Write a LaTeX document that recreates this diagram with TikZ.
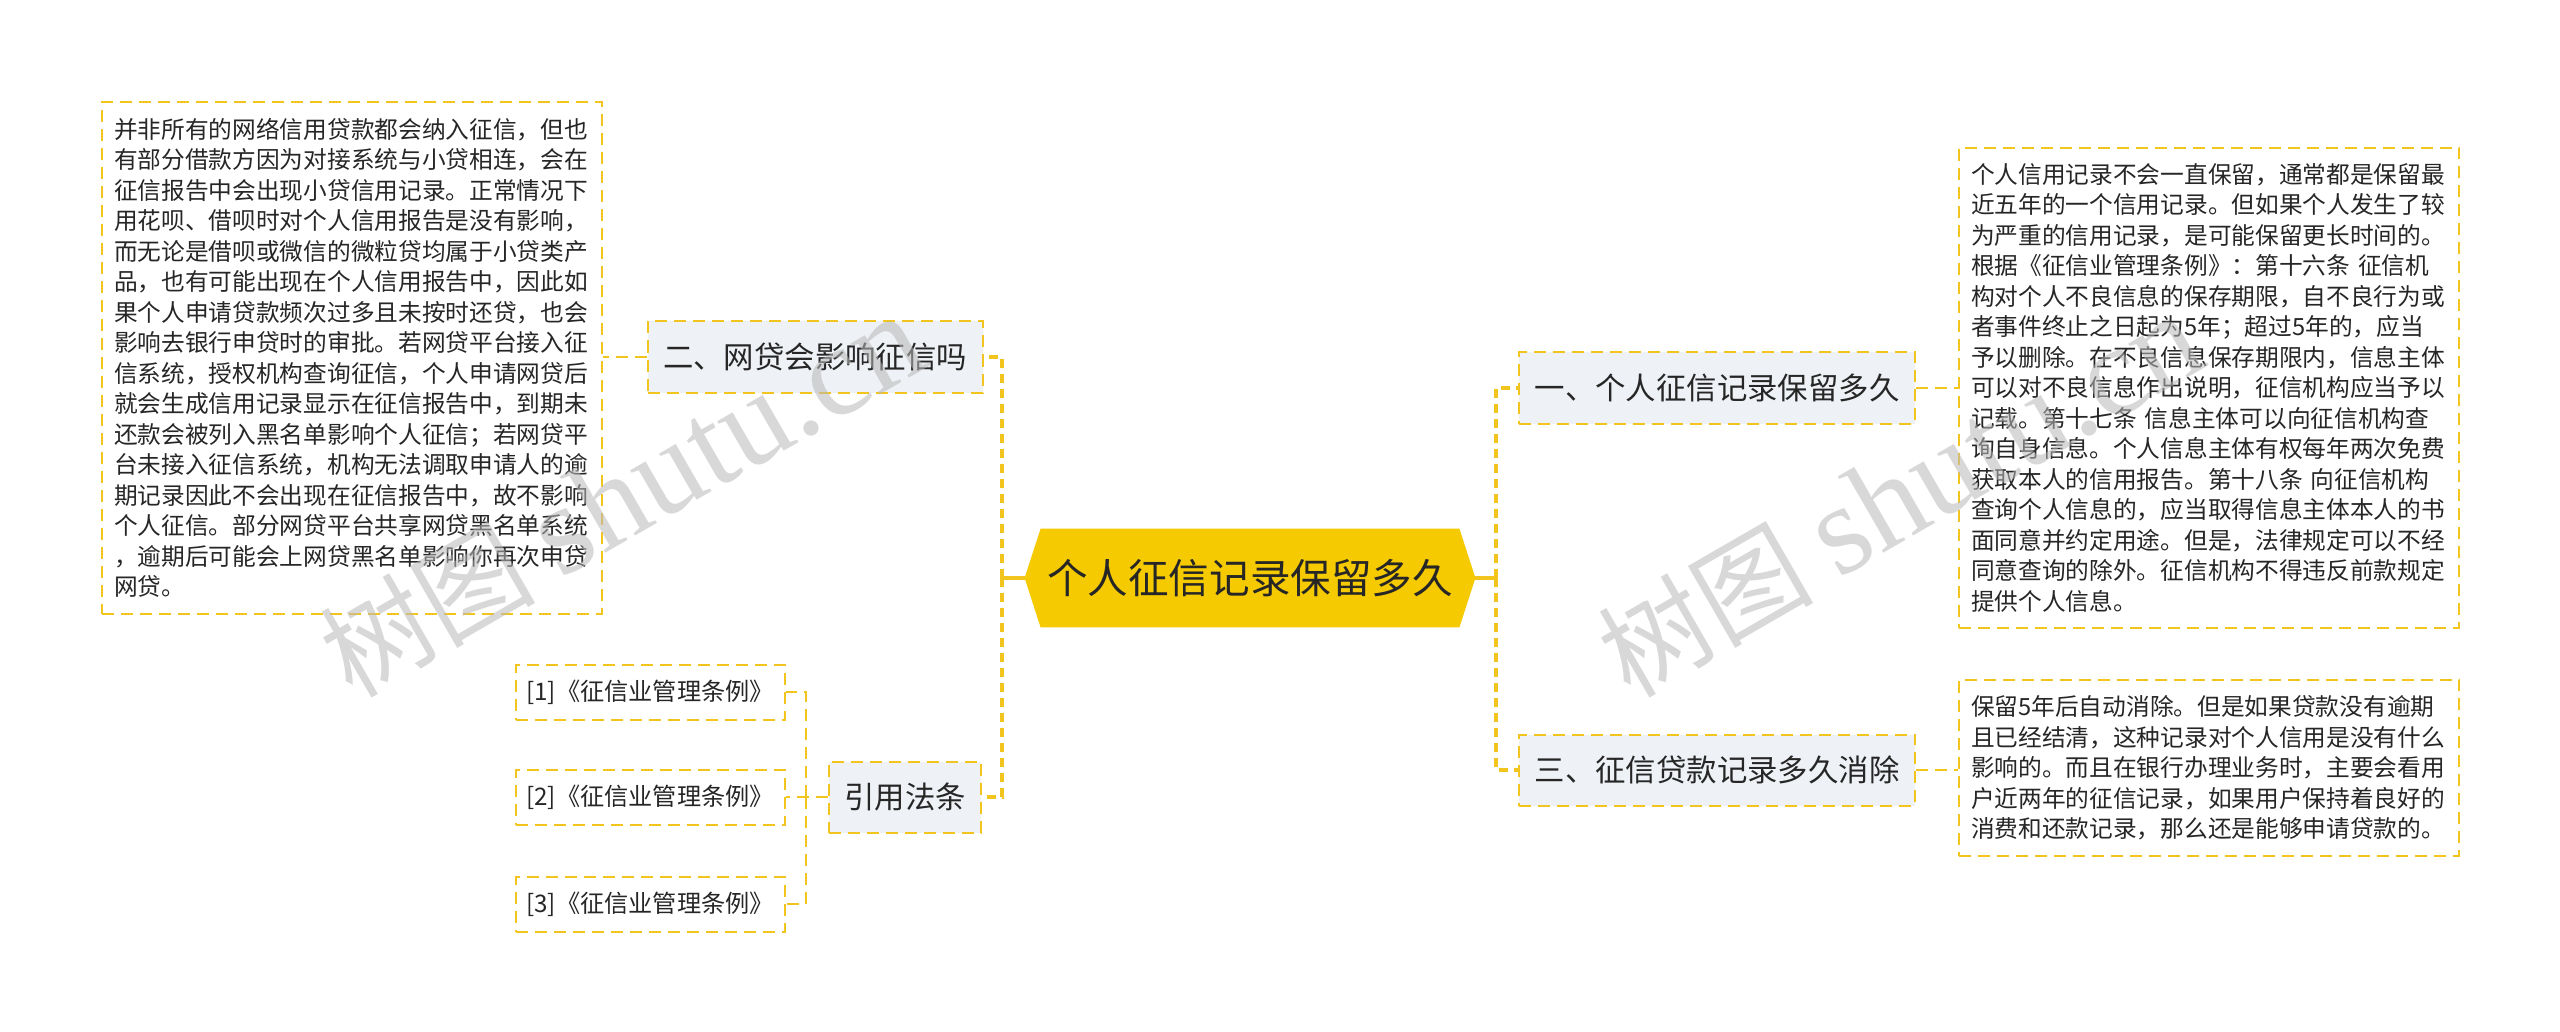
\documentclass[tikz,border=0pt]{standalone}
\usepackage{fontspec}
\setmainfont{Noto Sans CJK SC}
\newfontfamily\wmlatin{Liberation Serif}
\usepackage{xcolor}
\usepackage{tikz}
\usetikzlibrary{calc,backgrounds}

\definecolor{linkyellow}{RGB}{242,196,30}
\definecolor{rootyellow}{RGB}{246,202,0}
\definecolor{topicgray}{RGB}{238,241,245}
\definecolor{inktext}{RGB}{38,38,38}

\begin{document}
\begin{tikzpicture}[x=0.5pt,y=-0.5pt,
  dashbox/.style={draw=linkyellow,line width=1pt,dash pattern=on 6pt off 3.5pt,text=inktext},
  rootbox/.style={text=inktext,font=\fontsize{20.3}{24}\selectfont,minimum width=225pt,minimum height=49pt,inner sep=0pt},
  topicbox/.style={dashbox,fill=topicgray,font=\fontsize{15.2}{18}\selectfont,minimum height=35.5pt,inner xsep=7.75pt,inner ysep=0pt},
  notebox/.style={dashbox,fill=white,font=\fontsize{11.85}{15.25}\selectfont,text width=238pt,align=left,inner xsep=6pt,inner ysep=8pt},
  refbox/.style={dashbox,fill=white,font=\fontsize{12.1}{14}\selectfont,minimum width=134.5pt,minimum height=27.5pt,inner sep=0pt},
  trunk/.style={draw=linkyellow,line width=1.7pt,dash pattern=on 4.5pt off 3pt},
  twig/.style={draw=linkyellow,line width=1pt,dash pattern=on 6pt off 3.5pt},
  wmark/.style={text=black!28,opacity=0.55,rotate=30,anchor=base west,inner sep=0pt,font=\fontsize{54}{60}\selectfont}]
% page, in pixels of the reference
\begin{scope}[on background layer]
\fill[white] (0,0) rectangle (2560,1032);
\end{scope}
\useasboundingbox (0,0) rectangle (2560,1032);

% root, a flat hexagon
\node[rootbox] (root) at (1250,578) {个人征信记录保留多久};
\begin{scope}[on background layer]
\fill[rootyellow] (root.west) -- ($(root.north west)+(16,0)$) -- ($(root.north east)+(-16,0)$)
  -- (root.east) -- ($(root.south east)+(-16,0)$) -- ($(root.south west)+(16,0)$) -- cycle;
\end{scope}

% right side
\node[topicbox] (b1) at (1717,388) {一、个人征信记录保留多久};
\node[topicbox] (b3) at (1717,770) {三、征信贷款记录多久消除};
\node[notebox] (t1) at (2209,388) {个人信用记录不会一直保留，通常都是保留最\\
近五年的一个信用记录。但如果个人发生了较\\
为严重的信用记录，是可能保留更长时间的。\\
根据《征信业管理条例》：第十六条 征信机\\
构对个人不良信息的保存期限，自不良行为或\\
者事件终止之日起为5年；超过5年的，应当\\
予以删除。在不良信息保存期限内，信息主体\\
可以对不良信息作出说明，征信机构应当予以\\
记载。第十七条 信息主体可以向征信机构查\\
询自身信息。个人信息主体有权每年两次免费\\
获取本人的信用报告。第十八条 向征信机构\\
查询个人信息的，应当取得信息主体本人的书\\
面同意并约定用途。但是，法律规定可以不经\\
同意查询的除外。征信机构不得违反前款规定\\
提供个人信息。};
\node[notebox] (t3) at (2209,768) {保留5年后自动消除。但是如果贷款没有逾期\\
且已经结清，这种记录对个人信用是没有什么\\
影响的。而且在银行办理业务时，主要会看用\\
户近两年的征信记录，如果用户保持着良好的\\
消费和还款记录，那么还是能够申请贷款的。};

% left side
\node[topicbox] (b2) at (815,357) {二、网贷会影响征信吗};
\node[topicbox] (b4) at (905,797) {引用法条};
\node[notebox] (t2) at (352,358) {并非所有的网络信用贷款都会纳入征信，但也\\
有部分借款方因为对接系统与小贷相连，会在\\
征信报告中会出现小贷信用记录。正常情况下\\
用花呗、借呗时对个人信用报告是没有影响，\\
而无论是借呗或微信的微粒贷均属于小贷类产\\
品，也有可能出现在个人信用报告中，因此如\\
果个人申请贷款频次过多且未按时还贷，也会\\
影响去银行申贷时的审批。若网贷平台接入征\\
信系统，授权机构查询征信，个人申请网贷后\\
就会生成信用记录显示在征信报告中，到期未\\
还款会被列入黑名单影响个人征信；若网贷平\\
台未接入征信系统，机构无法调取申请人的逾\\
期记录因此不会出现在征信报告中，故不影响\\
个人征信。部分网贷平台共享网贷黑名单系统\\
，逾期后可能会上网贷黑名单影响你再次申贷\\
网贷。};
\node[refbox] (r1) at (650,692) {[1]《征信业管理条例》};
\node[refbox] (r2) at (650,797) {[2]《征信业管理条例》};
\node[refbox] (r3) at (650,904) {[3]《征信业管理条例》};

% connectors
\coordinate (jl) at (1002,578);
\coordinate (jr) at (1496,578);
\coordinate (jref) at (806,797);
\draw[trunk,solid] (root.west) -- (jl);
\draw[trunk] (jl) |- (b2.east);
\draw[trunk] (jl) |- (b4.east);
\draw[trunk,solid] (root.east) -- (jr);
\draw[trunk] (jr) |- (b1.west);
\draw[trunk] (jr) |- (b3.west);
\draw[twig] (b2.west) -- (b2.west -| t2.east);
\draw[twig] (b1.east) -- (b1.east -| t1.west);
\draw[twig] (b3.east) -- (b3.east -| t3.west);
\draw[twig] (b4.west) -- (r2.east);
\draw[twig] (jref) |- (r1.east);
\draw[twig] (jref) |- (r3.east);

% watermarks
\node[wmark] (wmA) at (352,700) {树图 {\wmlatin\fontsize{64}{70}\selectfont shutu.cn}};
\node[wmark] (wmB) at (1630,700) {树图 {\wmlatin\fontsize{64}{70}\selectfont shutu.cn}};
\end{tikzpicture}
\end{document}
